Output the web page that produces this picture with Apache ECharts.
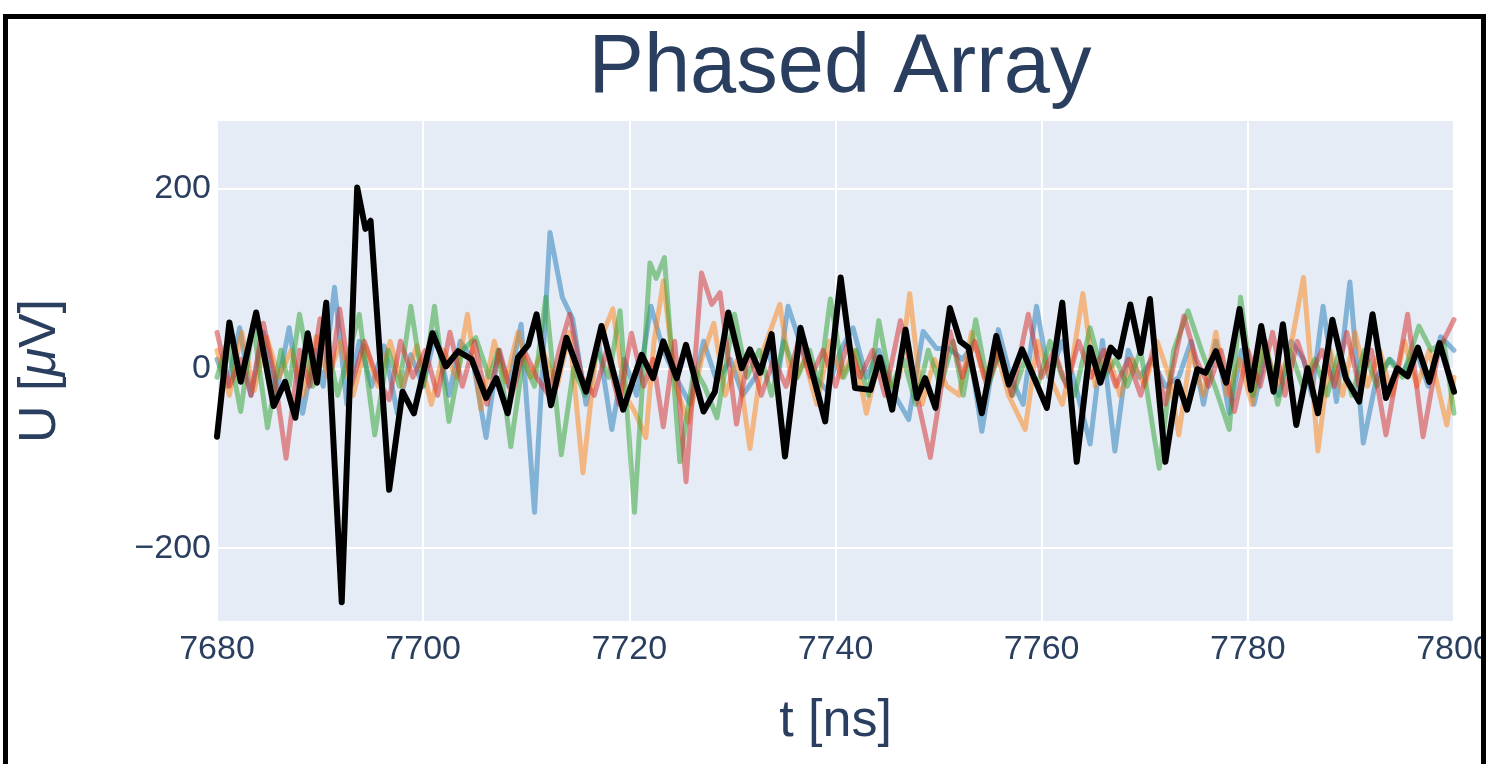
<!DOCTYPE html>
<html>
<head>
<meta charset="utf-8">
<script src="https://cdn.jsdelivr.net/npm/echarts@6/dist/echarts.min.js"></script>
<style>
html,body{margin:0;padding:0;background:#fff;}
#chart{width:1486px;height:764px;}
#frame{position:absolute;left:3px;top:14px;width:1473px;height:800px;border:5px solid #000;pointer-events:none;}
</style>
</head>
<body>
<div id="chart"></div>
<div id="frame"></div>
<script>
// ---- data (t in ns, U in µV) ----
const xTicks = [7680, 7700, 7720, 7740, 7760, 7780, 7800];
const yTicks = [-200, 0, 200];

const blackTrace = [[7680.0,-76],[7681.2,51],[7682.3,-15],[7683.8,62],[7685.5,-42],[7686.6,-15],[7687.6,-55],[7688.8,39],[7689.7,-16],[7690.6,73],[7692.1,-260],[7693.6,201],[7694.4,155],[7694.9,164],[7696.7,-135],[7698.0,-26],[7699.1,-50],[7700.9,39],[7702.2,2],[7703.4,19],[7704.7,10],[7706.1,-33],[7707.1,-11],[7708.2,-50],[7709.2,12],[7710.2,26],[7711.0,60],[7712.4,-41],[7713.9,34],[7715.8,-26],[7717.3,47],[7719.4,-46],[7721.2,15],[7722.3,-11],[7723.3,30],[7724.6,-11],[7725.5,26],[7727.2,-48],[7728.3,-26],[7729.6,62],[7730.9,0],[7731.7,21],[7732.7,-5],[7733.8,38],[7735.1,-98],[7736.6,45],[7739.0,-59],[7740.5,101],[7741.9,-22],[7743.4,-24],[7744.3,12],[7745.5,-46],[7746.8,43],[7747.9,-33],[7748.7,-11],[7749.7,-44],[7751.1,67],[7752.1,30],[7752.9,23],[7754.2,-50],[7755.6,36],[7756.8,-18],[7758.1,21],[7760.5,-44],[7762.0,73],[7763.4,-104],[7764.7,23],[7765.7,-16],[7766.7,23],[7767.5,13],[7768.6,71],[7769.6,17],[7770.5,77],[7772.0,-104],[7773.2,-15],[7774.1,-46],[7775.1,-1],[7775.9,-5],[7776.9,19],[7777.9,-16],[7779.2,66],[7780.3,-24],[7781.3,47],[7782.5,-26],[7783.4,49],[7784.7,-63],[7785.8,0],[7786.8,-50],[7788.2,54],[7789.5,-11],[7790.8,-37],[7792.1,60],[7793.4,-33],[7794.5,0],[7795.5,-9],[7796.5,23],[7797.6,-15],[7798.6,28],[7800.0,-26]];

const blueTrace = [[7680,10],[7681,-20],[7682.2,45],[7683.3,-30],[7684.5,40],[7685.8,-25],[7687,45],[7688.3,-50],[7689.5,20],[7690.3,-20],[7691.4,90],[7692.6,-40],[7693.8,30],[7695,-20],[7696.2,25],[7697.5,-50],[7698.8,15],[7700,-20],[7701.2,40],[7702.5,-30],[7703.6,30],[7704.8,10],[7706.1,-77],[7707.3,20],[7708.3,-20],[7709.5,49],[7710.8,-160],[7712.3,151],[7713.5,79],[7714.5,55],[7715.8,-40],[7717,30],[7718.3,-68],[7719.5,10],[7720.7,-30],[7722.1,69],[7723.3,20],[7724.5,-10],[7725.9,-40],[7727.2,30],[7728.5,-15],[7729.8,10],[7731,-30],[7732.2,-10],[7733.5,20],[7734.3,-20],[7735.4,69],[7736.8,20],[7738,-10],[7739.2,-25],[7740.5,20],[7741.7,45],[7743,-10],[7744.2,20],[7745.5,-25],[7747.1,-57],[7748.5,41],[7749.8,22],[7751,22],[7752.3,10],[7753,20],[7754.2,-70],[7755.8,43],[7757,-10],[7758.2,-40],[7759.5,69],[7760.7,-10],[7762,30],[7763.3,-20],[7764.7,-84],[7765.9,31],[7767.1,-92],[7768.4,20],[7769.5,-10],[7770.7,10],[7772,-20],[7773.3,-10],[7774.5,30],[7775.7,-40],[7776.9,30],[7778.2,-50],[7779.4,20],[7780.6,-40],[7781.8,20],[7783,-30],[7784.2,30],[7785.4,10],[7786.2,-30],[7787.3,69],[7788.6,-37],[7789.9,96],[7791.2,-83],[7792.5,-10],[7793.8,10],[7795,-5],[7796.3,20],[7797.5,-20],[7798.7,35],[7800,20]];

const orangeTrace = [[7680,20],[7681.2,-30],[7682.4,40],[7683.6,-25],[7684.8,35],[7686,-10],[7687.2,20],[7688.4,-30],[7689.6,35],[7690.8,-10],[7692,30],[7693.2,-30],[7694.4,25],[7695.6,-20],[7696.8,30],[7698,-20],[7699.4,25],[7700.8,-40],[7702,20],[7703.2,-10],[7704.3,60],[7705.6,-45],[7706.9,30],[7708,-15],[7709.2,40],[7710.4,-10],[7711.6,20],[7713,-20],[7714.2,40],[7715.5,-116],[7716.8,20],[7718.4,66],[7719.6,-30],[7720.6,-50],[7721.6,-77],[7722.4,30],[7723.3,97],[7724.5,-20],[7725.7,-60],[7727,10],[7728.2,50],[7729.3,-30],[7730.5,10],[7731.7,-89],[7733,20],[7734.6,71],[7735.8,-20],[7737,10],[7738.2,-40],[7739.4,30],[7740.6,-10],[7741.8,20],[7743,-50],[7744.2,10],[7745.4,-20],[7746.2,-10],[7747.2,83],[7748.4,-40],[7749.6,10],[7750.8,-20],[7752,-30],[7753.2,40],[7754.4,-10],[7755.6,20],[7756.8,-30],[7758.4,-68],[7759.6,30],[7760.8,-10],[7762,-40],[7763,10],[7764,83],[7765.2,-20],[7766.4,20],[7767.6,-30],[7768.8,10],[7770,-20],[7771.2,30],[7772.4,-10],[7773.3,-74],[7774.5,20],[7775.7,-30],[7776.9,40],[7778,-30],[7779.2,10],[7780.4,-40],[7781.6,30],[7782.8,-20],[7784.1,20],[7785.4,101],[7786.8,-92],[7788,20],[7789.2,-30],[7790.4,40],[7791.6,-20],[7792.8,20],[7794,-30],[7795.2,30],[7796.4,-20],[7797.6,20],[7799.3,-63],[7800,-10]];

const greenTrace = [[7680,-10],[7681,30],[7682.3,-48],[7683.5,50],[7684.9,-66],[7686.2,20],[7687,-20],[7688,60],[7689.3,-20],[7690.5,40],[7691.7,-30],[7693.8,60],[7695.3,-74],[7696.6,20],[7697.7,-20],[7698.8,69],[7700,-20],[7701.1,69],[7702.5,-59],[7703.8,20],[7705.1,34],[7706.4,-10],[7707.3,20],[7708.5,-87],[7709.7,10],[7710.8,-20],[7711.9,79],[7713.4,-96],[7714.6,0],[7715.7,-30],[7716.9,20],[7718,-10],[7719.1,64],[7720.5,-160],[7722,117],[7722.6,100],[7723.4,123],[7724.9,-104],[7726.3,0],[7727.3,-20],[7728.5,-55],[7730.2,60],[7731.4,-10],[7732.6,20],[7733.8,-30],[7735,30],[7736.3,-10],[7737.5,20],[7738.4,-20],[7739.5,77],[7740.8,-10],[7742,20],[7743.2,-30],[7744.2,53],[7745.4,-20],[7746.6,10],[7747.8,-40],[7749,20],[7750.2,-20],[7751.4,30],[7752.4,-30],[7753.6,54],[7754.8,-20],[7756,20],[7757.2,-30],[7758.4,10],[7759.6,-20],[7760.8,30],[7762,-10],[7763.2,-30],[7764.7,45],[7766,-10],[7767.2,10],[7768.3,-20],[7769.6,20],[7771.4,-111],[7772.8,20],[7774.2,64],[7775.5,20],[7776.8,-20],[7778.2,-68],[7779.3,79],[7780.5,-30],[7781.7,30],[7782.9,-40],[7784.1,20],[7785.3,-20],[7786.5,10],[7787.7,-30],[7788.9,20],[7790.1,-30],[7791.3,20],[7792.5,-20],[7793.7,10],[7795,-10],[7796.6,47],[7797.8,20],[7799,30],[7800,-50]];

const redTrace = [[7680,40],[7681.2,-20],[7682.3,10],[7683.3,-30],[7684.5,50],[7685.6,-10],[7686.7,-100],[7688,20],[7689,-20],[7690,55],[7691,-10],[7691.9,66],[7693,-20],[7694.3,30],[7695.5,-10],[7696.7,-35],[7697.8,30],[7699,-10],[7700.2,20],[7701.4,-30],[7702.6,40],[7703.8,-20],[7705,30],[7706.2,-40],[7707.4,20],[7708.6,-30],[7709.8,20],[7711,-10],[7712.2,-30],[7713.2,20],[7714.2,60],[7715.4,-10],[7716.6,-30],[7717.8,20],[7719,-40],[7720.2,39],[7721.4,-20],[7722.3,10],[7723.3,-65],[7724.4,30],[7725.5,-126],[7727,106],[7728,71],[7728.8,84],[7730.4,-62],[7731.6,20],[7732.8,-30],[7734,10],[7735.2,-20],[7736.4,30],[7737.6,-10],[7738.8,20],[7740,-20],[7741.2,30],[7742.4,-10],[7743.6,20],[7744.8,-30],[7746.3,53],[7747.5,-10],[7749.2,-99],[7750,-40],[7751.1,41],[7752.3,-10],[7753.5,30],[7754.7,-20],[7755.9,20],[7757.1,-30],[7758.7,60],[7760,-10],[7761.2,20],[7762.4,-20],[7763.6,30],[7764.8,-10],[7766,20],[7767.2,-20],[7768.4,10],[7769.6,-30],[7770.8,20],[7772,-40],[7773.8,58],[7775,10],[7776.2,-20],[7777.4,20],[7778.7,-48],[7780,20],[7781.2,-20],[7782.4,40],[7783.6,-30],[7784.8,30],[7786,-10],[7787.2,20],[7788.4,-20],[7789.6,40],[7790.8,-20],[7792,20],[7793.4,-74],[7795.5,60],[7797,-76],[7798.5,20],[7800,54]];

const titleText = 'Phased Array';
const xName = 't [ns]';

// ---- chart ----
const textColor = '#2a3f5f';
const FONT = '"Liberation Sans", Arial, Helvetica, sans-serif';
const chart = echarts.init(document.getElementById('chart'), null, {renderer: 'canvas'});

function lineSeries(name, data, color, opacity, width, z) {
  return {
    name: name, type: 'line', data: data, showSymbol: false, symbol: 'none',
    animation: false, z: z,
    lineStyle: {color: color, width: width, opacity: opacity, join: 'round', cap: 'round'}
  };
}

chart.setOption({
  animation: false,
  backgroundColor: '#ffffff',
  textStyle: {fontFamily: FONT},
  title: {
    text: titleText, left: 835, textAlign: 'center', top: 23,
    textStyle: {fontSize: 83, fontWeight: 'normal', color: textColor, fontFamily: FONT}
  },
  grid: {
    left: 217, right: 32, top: 120, bottom: 142,
    outerBoundsMode: 'none', containLabel: false,
    show: true, backgroundColor: '#E5ECF6', borderWidth: 0
  },
  xAxis: {
    type: 'value', min: xTicks[0], max: xTicks[xTicks.length - 1], interval: xTicks[1] - xTicks[0],
    name: xName, nameLocation: 'middle', nameGap: 74,
    nameTextStyle: {fontSize: 52, color: textColor, fontFamily: FONT},
    axisLine: {show: false}, axisTick: {show: false},
    axisLabel: {fontSize: 34, color: textColor, margin: 11, fontFamily: FONT,
      formatter: function (v) { return String(v); }},
    splitLine: {show: true, lineStyle: {color: '#ffffff', width: 2}}
  },
  yAxis: {
    type: 'value', min: -282, max: 276, splitNumber: 3,
    name: '{a|U [}{i|μ}{a|V]}', nameLocation: 'middle', nameGap: 150,
    nameTextStyle: {
      color: textColor, fontSize: 52, fontFamily: FONT,
      rich: {
        a: {fontSize: 52, color: textColor, fontFamily: FONT},
        i: {fontSize: 52, color: textColor, fontFamily: FONT, fontStyle: 'italic'}
      }
    },
    axisLine: {show: false}, axisTick: {show: false},
    axisLabel: {
      fontSize: 34, color: textColor, margin: 6, fontFamily: FONT,
      showMinLabel: false, showMaxLabel: false,
      formatter: function (v) {
        if (yTicks.indexOf(v) < 0) return '';
        return v < 0 ? '\u2212' + Math.abs(v) : String(v);
      }
    },
    splitLine: {show: true, lineStyle: {color: '#ffffff', width: 2}}
  },
  series: [
    lineSeries('blue', blueTrace, '#1f77b4', 0.5, 5, 2),
    lineSeries('orange', orangeTrace, '#ff7f0e', 0.5, 5, 2),
    lineSeries('green', greenTrace, '#2ca02c', 0.5, 5, 2),
    lineSeries('red', redTrace, '#d62728', 0.5, 5, 2),
    lineSeries('phased', blackTrace, '#000000', 1, 6, 3)
  ]
});
</script>
</body>
</html>
